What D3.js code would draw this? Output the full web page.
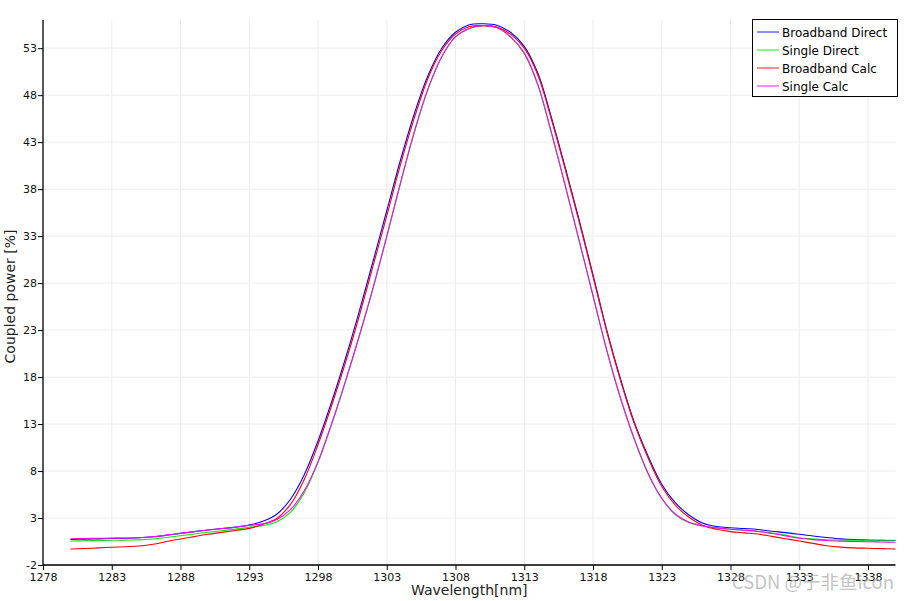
<!DOCTYPE html>
<html><head><meta charset="utf-8">
<script src="https://cdn.jsdelivr.net/npm/d3@7"></script>
<style>
body{margin:0;background:#fff;}
svg{display:block;font-family:"DejaVu Sans",sans-serif;}
</style></head>
<body><svg id="chart" width="909" height="601"></svg>
<script>
const wavelengths = d3.range(1280, 1341, 1);
const broadbandDirect = [0.72,0.75,0.78,0.82,0.85,0.90,1.00,1.17,1.37,1.55,1.73,1.88,2.03,2.25,2.65,3.40,5.00,7.60,11.2,15.4,20.0,25.0,30.3,35.7,41.1,46.0,50.1,53.0,54.7,55.5,55.6,55.45,54.7,53.2,50.3,45.5,40.2,34.7,28.9,23.0,17.8,13.2,9.6,6.6,4.6,3.3,2.45,2.1,1.97,1.88,1.78,1.6,1.45,1.27,1.08,0.92,0.78,0.70,0.66,0.62,0.60];
const singleDirect = [0.56,0.58,0.60,0.63,0.65,0.67,0.77,0.93,1.12,1.30,1.48,1.65,1.82,2.01,2.19,2.60,3.60,5.70,8.9,13.0,17.5,22.3,27.4,32.9,38.6,44.0,48.6,52.1,54.2,55.1,55.4,55.2,54.2,52.4,49.0,43.8,38.2,32.4,26.6,20.8,15.7,11.35,7.7,5.05,3.35,2.5,2.15,1.95,1.80,1.70,1.58,1.40,1.18,0.90,0.78,0.68,0.65,0.64,0.63,0.63,0.63];
const broadbandCalc = [-0.30,-0.25,-0.18,-0.11,-0.05,0.02,0.20,0.50,0.77,1.02,1.27,1.47,1.68,1.90,2.33,2.95,4.45,7.10,10.8,15.0,19.55,24.5,29.8,35.15,40.6,45.55,49.8,52.75,54.5,55.3,55.4,55.25,54.5,53.0,50.1,45.3,40.0,34.5,28.7,22.85,17.65,13.05,9.4,6.35,4.35,3.05,2.2,1.8,1.55,1.42,1.30,1.05,0.80,0.56,0.30,0.05,-0.10,-0.18,-0.22,-0.26,-0.30];
const singleCalc = [0.80,0.82,0.84,0.86,0.87,0.90,1.00,1.18,1.37,1.55,1.72,1.87,2.02,2.22,2.38,2.85,3.90,5.90,9.0,13.1,17.6,22.4,27.5,33.0,38.7,44.1,48.7,52.1,54.2,55.1,55.4,55.2,54.2,52.5,49.1,43.9,38.3,32.55,26.7,20.9,15.8,11.45,7.8,5.1,3.4,2.55,2.15,1.95,1.80,1.70,1.57,1.35,1.10,0.84,0.70,0.60,0.54,0.50,0.48,0.45,0.42];
const seriesNames = ["Broadband Direct","Single Direct","Broadband Calc","Single Calc"];
const seriesColors = ["#0000ff","#00ee00","#ff0000","#ff00ff"];
const xTicks = d3.range(1278, 1340, 5);
const yTicks = d3.range(-2, 56, 5);
const xTitle = "Wavelength[nm]";
const yTitle = "Coupled power [%]";
const watermark = "CSDN @于非鱼icon";

const seriesValues = [broadbandDirect, singleDirect, broadbandCalc, singleCalc];
const svg = d3.select("#chart");
const L = 43, R = 895.5, T = 20, B = 565;
const x = d3.scaleLinear().domain([1278, 1340]).range([L, R]);
const y = d3.scaleLinear().domain([-2, 56]).range([B, T]);

// grid
const grid = svg.append("g");
grid.selectAll(".vg").data(xTicks).join("line")
  .attr("x1", d => x(d)).attr("x2", d => x(d)).attr("y1", T).attr("y2", B)
  .attr("stroke", "#ececec").attr("stroke-width", 1);
grid.selectAll(".hg").data(yTicks).join("line")
  .attr("x1", L).attr("x2", R).attr("y1", d => y(d)).attr("y2", d => y(d))
  .attr("stroke", "#ececec").attr("stroke-width", 1);

// lines
const line = d3.line().curve(d3.curveCatmullRom.alpha(0.5));
seriesValues.forEach((vals, i) => {
  svg.append("path")
    .attr("d", line(wavelengths.map((w, j) => [x(w), y(vals[j])])))
    .attr("fill", "none").attr("stroke", seriesColors[i]).attr("stroke-width", 1.1);
});

// axes
const fmt = d => String(d);
const xAxis = svg.append("g").attr("transform", `translate(0,${B})`)
  .call(d3.axisBottom(x).tickValues(xTicks).tickSize(5).tickSizeOuter(0).tickFormat(fmt));
const yAxis = svg.append("g").attr("transform", `translate(${L},0)`)
  .call(d3.axisLeft(y).tickValues(yTicks).tickSize(5).tickSizeOuter(0).tickFormat(fmt));
[xAxis, yAxis].forEach(a => {
  a.select(".domain").attr("stroke", "#000").attr("stroke-width", 1.3);
  a.selectAll(".tick line").attr("stroke", "#000");
  a.selectAll(".tick text").attr("font-family", "DejaVu Sans").attr("font-size", 11).attr("fill", "#111");
});
xAxis.selectAll(".tick text").attr("dy", "0.95em").attr("y", 6);
yAxis.selectAll(".tick text").attr("x", -6);
yAxis.select(".domain").attr("d", `M0,${B}V${T}`);
xAxis.select(".domain").attr("d", `M${L},0H${R}`);

// titles
svg.append("text").attr("x", (L + R) / 2).attr("y", 595).attr("text-anchor", "middle")
  .attr("font-size", 14).attr("fill", "#222").text(xTitle);
svg.append("text").attr("transform", `translate(15,${(T + B) / 2 + 4}) rotate(-90)`)
  .attr("text-anchor", "middle").attr("font-size", 14).attr("fill", "#222").text(yTitle);

// legend
const lg = svg.append("g");
lg.append("rect").attr("x", 752.5).attr("y", 19.5).attr("width", 145).attr("height", 77)
  .attr("fill", "#fff").attr("stroke", "#000").attr("stroke-width", 1);
seriesNames.forEach((n, i) => {
  const yy = 32 + i * 18;
  lg.append("line").attr("x1", 757).attr("x2", 779).attr("y1", yy).attr("y2", yy)
    .attr("stroke", seriesColors[i]).attr("stroke-width", 1.3).attr("stroke-opacity", 0.7);
  lg.append("text").attr("x", 782).attr("y", yy + 4.5).attr("font-size", 12).attr("fill", "#000").text(n);
});

// watermark
svg.append("text").attr("x", 894).attr("y", 589).attr("text-anchor", "end")
  .attr("font-family", "Noto Sans CJK SC, DejaVu Sans").attr("font-size", 18.5)
  .attr("fill", "#a8a8a8").attr("fill-opacity", 0.7).text(watermark);
</script></body></html>
